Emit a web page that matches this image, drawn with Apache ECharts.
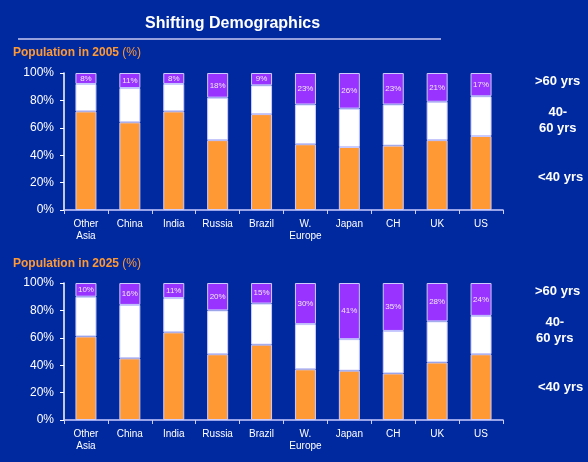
<!DOCTYPE html>
<html>
<head>
<meta charset="utf-8">
<script src="https://cdn.jsdelivr.net/npm/echarts@6/dist/echarts.min.js"></script>
<style>
  html, body { margin: 0; padding: 0; background: #0029a0; }
  #main { width: 588px; height: 462px; }
</style>
</head>
<body>
<div id="main"></div>
<script>
// categories and values (%)
const countries = ['Other\nAsia', 'China', 'India', 'Russia', 'Brazil', 'W.\nEurope', 'Japan', 'CH', 'UK', 'US'];
const yTicks = ['0%', '20%', '40%', '60%', '80%', '100%'];

const under40_2005 = [72, 64, 72, 51, 70, 48, 46, 47, 51, 54];
const mid_2005     = [20, 25, 20, 31, 21, 29, 28, 30, 28, 29];
const over60_2005  = [8, 11, 8, 18, 9, 23, 26, 23, 21, 17];

const under40_2025 = [61, 45, 64, 48, 55, 37, 36, 34, 42, 48];
const mid_2025     = [29, 39, 25, 32, 30, 33, 23, 31, 30, 28];
const over60_2025  = [10, 16, 11, 20, 15, 30, 41, 35, 28, 24];

const bg = '#0029a0';
const orange = '#ff9933';
const purple = '#9933ff';
const edge = '#ccccff';

var myChart = echarts.init(document.getElementById('main'));

function xAxisFor(idx) {
  return {
    type: 'category',
    gridIndex: idx,
    data: countries,
    axisLine: { lineStyle: { color: edge, width: 1.5 } },
    axisTick: { show: true, length: 4, lineStyle: { color: edge } },
    axisLabel: { color: '#ffffff', fontSize: 10, fontFamily: 'Liberation Sans, Arial', lineHeight: 12, margin: 8 },
  };
}

function yAxisFor(idx) {
  return {
    type: 'value',
    gridIndex: idx,
    min: 0,
    max: 100,
    interval: 20,
    axisLine: { show: true, lineStyle: { color: '#ffffff', width: 1.5 } },
    axisTick: { show: true, length: 4, lineStyle: { color: '#ffffff' } },
    splitLine: { show: false },
    axisLabel: {
      color: '#ffffff',
      fontSize: 12,
      fontFamily: 'Liberation Sans, Arial',
      margin: 10,
      formatter: (v) => yTicks[v / 20],
    },
  };
}

function barSeries(idx, stackName, values, color, withLabel) {
  return {
    type: 'bar',
    xAxisIndex: idx,
    yAxisIndex: idx,
    stack: stackName,
    barWidth: 21,
    data: values,
    itemStyle: { color: color, borderColor: edge, borderWidth: 1 },
    label: withLabel
      ? {
          show: true,
          position: 'inside',
          color: '#f0e8ff',
          fontSize: 8,
          fontFamily: 'Liberation Sans, Arial',
          formatter: '{c}%',
        }
      : { show: false },
    emphasis: { disabled: true },
  };
}

function sideText(x, y, text) {
  return {
    type: 'text',
    left: x,
    top: y,
    style: {
      text: text,
      fill: '#ffffff',
      font: 'bold 13px Liberation Sans, Arial',
      textAlign: 'center',
      lineHeight: 16,
    },
  };
}

const option = {
  backgroundColor: bg,
  animation: false,
  grid: [
    { left: 64, top: 73, width: 439, height: 137 },
    { left: 64, top: 283, width: 439, height: 137 },
  ],
  xAxis: [xAxisFor(0), xAxisFor(1)],
  yAxis: [yAxisFor(0), yAxisFor(1)],
  series: [
    barSeries(0, 'a', under40_2005, orange, false),
    barSeries(0, 'a', mid_2005, '#ffffff', false),
    barSeries(0, 'a', over60_2005, purple, true),
    barSeries(1, 'b', under40_2025, orange, false),
    barSeries(1, 'b', mid_2025, '#ffffff', false),
    barSeries(1, 'b', over60_2025, purple, true),
  ],
  graphic: [
    {
      type: 'text',
      left: 145,
      top: 16,
      style: {
        text: 'Shifting Demographics',
        fill: '#ffffff',
        font: 'bold 16px Liberation Sans, Arial',
      },
    },
    {
      type: 'line',
      shape: { x1: 18, y1: 39, x2: 441, y2: 39 },
      style: { stroke: '#c8c8f0', lineWidth: 1.5 },
    },
    {
      type: 'text',
      left: 13,
      top: 47,
      style: {
        text: '{b|Population in 2005 }{n|(%)}',
        rich: {
          b: { fill: orange, font: 'bold 12px Liberation Sans, Arial' },
          n: { fill: orange, font: '12px Liberation Sans, Arial' },
        },
      },
    },
    {
      type: 'text',
      left: 13,
      top: 258,
      style: {
        text: '{b|Population in 2025 }{n|(%)}',
        rich: {
          b: { fill: orange, font: 'bold 12px Liberation Sans, Arial' },
          n: { fill: orange, font: '12px Liberation Sans, Arial' },
        },
      },
    },
    sideText(535, 73, '>60 yrs'),
    sideText(539, 104, '40-\n60 yrs'),
    sideText(538, 169, '<40 yrs'),
    sideText(535, 283, '>60 yrs'),
    sideText(536, 314, '40-\n60 yrs'),
    sideText(538, 379, '<40 yrs'),
  ],
};

myChart.setOption(option);
</script>
</body>
</html>
